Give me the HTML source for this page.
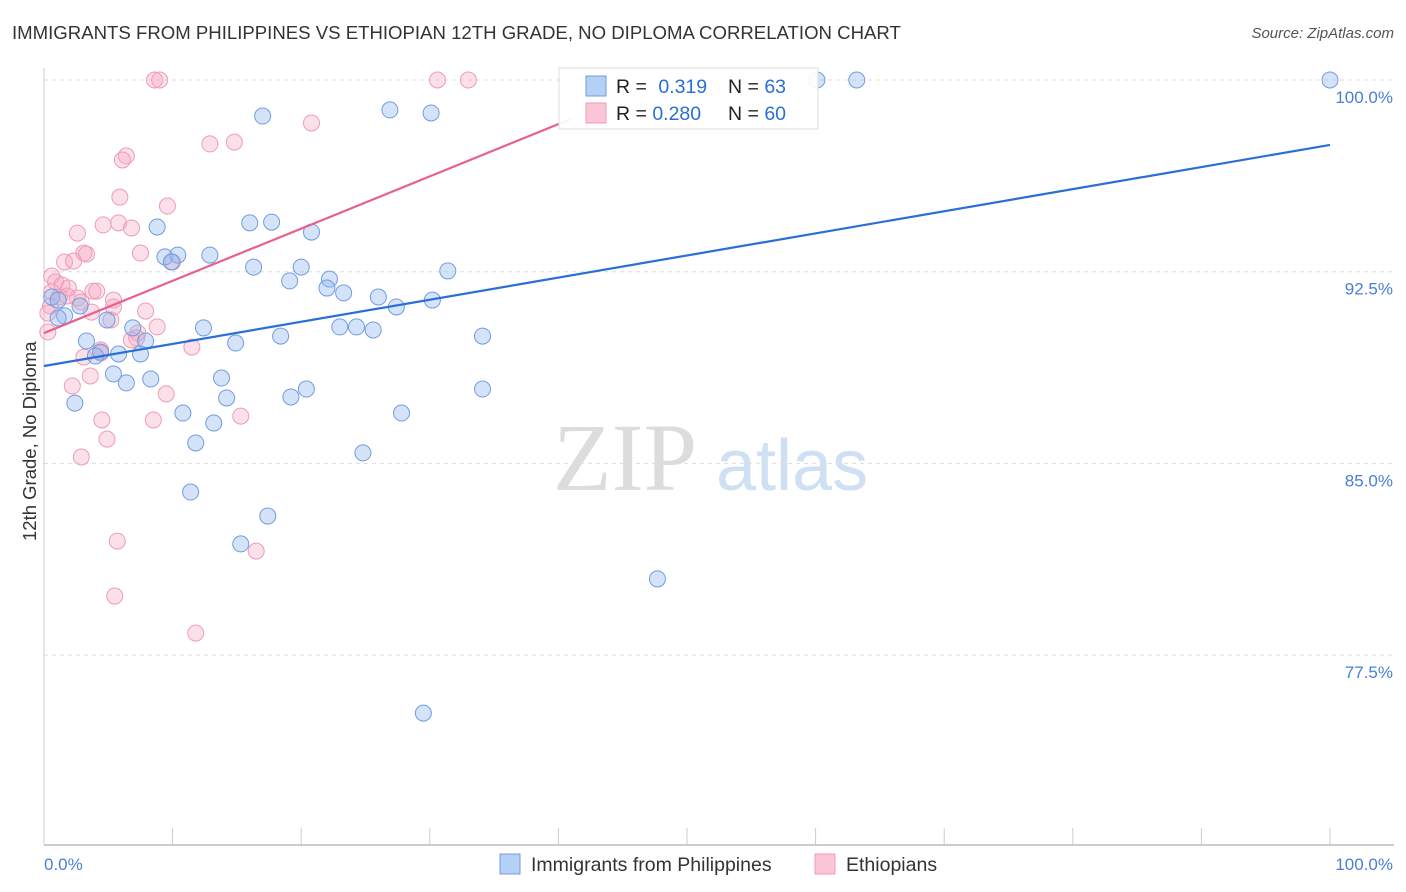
<!DOCTYPE html>
<html><head><meta charset="utf-8"><style>
body{margin:0;background:#fff;font-family:"Liberation Sans",sans-serif;}
#wrap{position:relative;width:1406px;height:892px;overflow:hidden;}
.t{position:absolute;white-space:nowrap;}
</style></head><body><div id="wrap">
<div class="t" style="left:12px;top:22px;font-size:18.6px;color:#333;">IMMIGRANTS FROM PHILIPPINES VS ETHIOPIAN 12TH GRADE, NO DIPLOMA CORRELATION CHART</div>
<div class="t" style="right:12px;top:25px;font-size:15px;color:#555;font-style:italic;">Source: ZipAtlas.com</div>
<div class="t" style="left:-55px;top:445px;font-size:18.5px;color:#333;transform:rotate(-90deg);width:170px;text-align:center;">12th Grade, No Diploma</div>
<svg id="svg" width="1406" height="892" style="position:absolute;left:0;top:0"></svg>
</div>
<script>
const xTicks=[0,10,20,30,40,50,60,70,80,90,100];
const yTicks=[100,92.5,85,77.5];
const yTickLabels=["100.0%","92.5%","85.0%","77.5%"];
const blueX=[100,63.2,60.1,26.9,30.1,17.0,16.0,17.7,8.8,20.8,9.4,10.4,12.9,9.9,16.3,20.0,31.4,22.2,19.1,22.0,23.3,26.0,30.2,27.4,0.6,1.1,2.8,1.6,1.1,4.9,12.4,23.0,24.3,25.6,18.4,34.1,6.9,14.9,3.3,7.9,4.4,4.0,5.8,7.5,5.4,6.4,8.3,13.8,20.4,19.2,34.1,14.2,2.4,10.8,13.2,27.8,11.8,24.8,11.4,17.4,15.3,47.7,29.5];
const blueY=[100,100,100,98.83,98.71,98.59,94.41,94.44,94.25,94.05,93.08,93.15,93.15,92.88,92.68,92.68,92.53,92.21,92.14,91.86,91.67,91.51,91.39,91.12,91.51,91.39,91.16,90.77,90.69,90.61,90.30,90.34,90.34,90.22,89.98,89.98,90.30,89.71,89.79,89.79,89.36,89.20,89.28,89.28,88.50,88.15,88.30,88.34,87.91,87.60,87.91,87.56,87.36,86.97,86.58,86.97,85.80,85.41,83.88,82.94,81.85,80.48,75.23];
const pinkX=[8.6,9.0,30.6,33.0,20.8,12.9,14.8,6.4,6.1,5.9,9.6,4.6,5.8,6.8,2.6,7.5,3.1,3.3,1.6,2.3,10.0,0.6,0.9,1.4,1.9,0.6,2.6,3.8,4.1,5.4,2.9,0.5,0.3,3.7,5.2,7.9,8.8,0.3,7.3,7.2,6.8,11.5,4.4,4.4,3.1,3.6,2.2,9.5,4.5,8.5,15.3,4.9,2.9,5.7,16.5,5.5,11.8,5.4,1.2,1.8];
const pinkY=[100,100,100,100,98.32,97.50,97.57,97.03,96.87,95.42,95.07,94.33,94.41,94.21,94.01,93.23,93.23,93.19,92.88,92.92,92.88,92.33,92.10,91.98,91.86,91.71,91.47,91.74,91.74,91.39,91.31,91.16,90.88,90.92,90.61,90.96,90.34,90.14,90.10,89.91,89.83,89.55,89.44,89.32,89.16,88.42,88.03,87.72,86.70,86.70,86.85,85.95,85.25,81.96,81.57,79.81,78.36,91.12,91.51,91.55];
const blueTrend=[88.81,97.46];
const pinkTrend=[90.1,94.33,20.7];
const X=v=>44+v*12.86, Y=v=>80+(100-v)*25.56;
const svg=document.getElementById('svg');const NS='http://www.w3.org/2000/svg';
function mk(tag,attrs,parent){const e=document.createElementNS(NS,tag);for(const k in attrs)e.setAttribute(k,attrs[k]);(parent||svg).appendChild(e);return e;}
let wm=mk('text',{x:553,y:490,'font-size':96,'font-family':'Liberation Serif,serif',fill:'#dcdcdc'});wm.textContent='ZIP';


let wm2=mk('text',{x:716,y:490,'font-size':72,'font-family':'Liberation Sans,sans-serif',fill:'#cfe0f5'});wm2.textContent='atlas';


yTicks.forEach((v,i)=>{
 const g=mk('line',{x1:44,x2:1394,y1:Y(v),y2:Y(v),stroke:'#ddd','stroke-dasharray':'4,4'});
 
 
 const t=mk('text',{x:1393,y:Y(v)+23,'text-anchor':'end','font-size':17,fill:'#4a7fd6'});t.textContent=yTickLabels[i];
 
 
});
xTicks.forEach(v=>{const l=mk('line',{x1:X(v),x2:X(v),y1:828,y2:845,stroke:'#ccc'});
 
 });
let ax=mk('line',{x1:44,x2:1394,y1:845,y2:845,stroke:'#bbb','stroke-width':1.5});


let ay=mk('line',{x1:44,x2:44,y1:68,y2:845,stroke:'#ccc'});


[['0.0%',44,'start'],['100.0%',1393,'end']].forEach(a=>{const t=mk('text',{x:a[1],y:870,'text-anchor':a[2],'font-size':17,fill:'#4a7fd6'});t.textContent=a[0];
 
 });
function pts(xs,ys,fill,stroke,name){xs.forEach((x,i)=>{const c=mk('circle',{cx:X(x),cy:Y(ys[i]),r:8,fill:fill,stroke:stroke,'stroke-width':1});
 
 });}
pts(pinkX,pinkY,'rgba(245,165,192,0.35)','#ef9bb8','ethiopians-point');
pts(blueX,blueY,'rgba(150,185,240,0.4)','#6f9de0','philippines-point');
let bl=mk('line',{x1:X(0),y1:Y(blueTrend[0]),x2:X(100),y2:Y(blueTrend[1]),stroke:'#2a6fd6','stroke-width':2.2});


const ps=(pinkTrend[1]-pinkTrend[0])/pinkTrend[2];
let pl=mk('line',{x1:X(0),y1:Y(pinkTrend[0]),x2:X(41),y2:Y(pinkTrend[0]+ps*41),stroke:'#e8608e','stroke-width':2.2});


let lg=mk('rect',{x:559,y:68,width:259,height:61,fill:'rgba(255,255,255,0.92)',stroke:'#ddd'});


[[0,'#b5d0f5','#6f9de0','0.319','63'],[1,'#fac6d6','#ef9bb8','0.280','60']].forEach(r=>{
 const y=86+r[0]*27;
 const s=mk('rect',{x:586,y:y-10,width:20,height:20,fill:r[1],stroke:r[2]});
 
 
 const t=mk('text',{x:616,y:y+7,'font-size':19.5,fill:'#222'});
 t.innerHTML='R = <tspan fill="#2a6fd6">'+r[3]+'</tspan><tspan x="728">N = </tspan><tspan fill="#2a6fd6">'+r[4]+'</tspan>';
 if(r[0]===0) t.querySelector('tspan').setAttribute('dx','6');
 
 
});
[[500,'#b5d0f5','#6f9de0','Immigrants from Philippines'],[815,'#fac6d6','#ef9bb8','Ethiopians']].forEach(r=>{
 const s=mk('rect',{x:r[0],y:854,width:20,height:20,fill:r[1],stroke:r[2]});
 
 
 const t=mk('text',{x:r[0]+31,y:871,'font-size':19.5,fill:'#333'});t.textContent=r[3];
 
 
});
</script></body></html>
